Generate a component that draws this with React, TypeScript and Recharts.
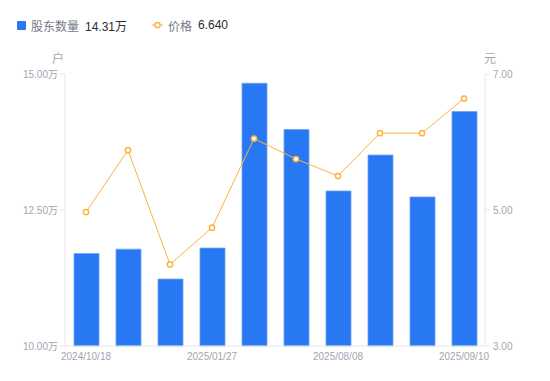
import { ComposedChart, Bar, Line, XAxis, YAxis } from 'recharts';

const dates = [
  '2024/10/18', '2024/10/31', '2024/12/31', '2025/01/27', '2025/03/31',
  '2025/06/30', '2025/08/08', '2025/08/20', '2025/08/29', '2025/09/10',
];
// holders, in persons
const holders = [117000, 117800, 112300, 118000, 148300, 139800, 128500, 135100, 127400, 143100];
// price, yuan
const prices = [4.97, 5.88, 4.2, 4.74, 6.05, 5.75, 5.5, 6.13, 6.13, 6.64];

const leftTicks = [100000, 125000, 150000];
const rightTicks = [3, 5, 7];

const data = dates.map((d, i) => ({ date: d, holders: holders[i], price: prices[i] }));

const BLUE = '#2878f4';
const ORANGE = '#ffb23c';
const TICK = '#a3a5b0';
const AXIS = '#e6e6ea';
const FONT = 'Arial, "Liberation Sans", "Noto Sans CJK SC", sans-serif';

export default function App() {
  return (
    <div style={{ position: 'absolute', left: 0, top: 0, width: 550, height: 381, fontFamily: FONT, background: '#fff' }}>
      {/* legend */}
      <div style={{ position: 'absolute', left: 17, top: 17, fontSize: 12, display: 'flex', alignItems: 'center', height: 16 }}>
        <span style={{ width: 9, height: 9, background: BLUE, borderRadius: 1, display: 'inline-block', marginRight: 5 }} />
        <span style={{ color: '#767985' }}>股东数量</span>
        <span style={{ color: '#2b2d33', marginLeft: 6 }}>14.31万</span>
      </div>
      <div style={{ position: 'absolute', left: 152, top: 17, fontSize: 12, display: 'flex', alignItems: 'center', height: 16 }}>
        <svg width={11} height={8} style={{ marginRight: 5 }}>
          <line x1={0} y1={4} x2={11} y2={4} stroke={ORANGE} strokeWidth={1} />
          <circle cx={5.5} cy={4} r={2.6} fill="#fff" stroke={ORANGE} strokeWidth={1.5} />
        </svg>
        <span style={{ color: '#767985' }}>价格</span>
        <span style={{ color: '#2b2d33', marginLeft: 6 }}>6.640</span>
      </div>
      {/* unit labels */}
      <div style={{ position: 'absolute', left: 52, top: 49, fontSize: 12, color: TICK }}>户</div>
      <div style={{ position: 'absolute', left: 484, top: 49, fontSize: 12, color: TICK }}>元</div>

      <ComposedChart
        width={550}
        height={381}
        data={data}
        margin={{ top: 74, right: 0, left: 0, bottom: 10 }}
        style={{ fontFamily: FONT }}
      >
        <XAxis
          dataKey="date"
          interval={2}
          height={25}
          tickLine={false}
          tickSize={5}
          tickMargin={2}
          axisLine={{ stroke: AXIS }}
          tick={{ fill: TICK, fontSize: 10 }}
        />
        <YAxis
          yAxisId="left"
          width={65}
          domain={[100000, 150000]}
          ticks={leftTicks}
          tickSize={5}
          tickMargin={2}
          axisLine={{ stroke: AXIS }}
          tickLine={{ stroke: AXIS }}
          tick={{ fill: TICK, fontSize: 10 }}
          tickFormatter={(v: number) => `${(v / 10000).toFixed(2)}万`}
        />
        <YAxis
          yAxisId="right"
          orientation="right"
          width={65}
          domain={[3, 7]}
          ticks={rightTicks}
          tickSize={5}
          tickMargin={3}
          axisLine={{ stroke: AXIS }}
          tickLine={{ stroke: AXIS }}
          tick={{ fill: TICK, fontSize: 10 }}
          tickFormatter={(v: number) => v.toFixed(2)}
        />
        <Bar
          yAxisId="left"
          dataKey="holders"
          fill={BLUE}
          stroke="#6fa3f7"
          strokeWidth={0.8}
          barSize={25}
          isAnimationActive={false}
        />
        <Line
          yAxisId="right"
          dataKey="price"
          type="linear"
          stroke={ORANGE}
          strokeWidth={1}
          dot={{ r: 2.6, fill: '#fff', stroke: ORANGE, strokeWidth: 1.5 }}
          activeDot={false}
          isAnimationActive={false}
        />
      </ComposedChart>
    </div>
  );
}
